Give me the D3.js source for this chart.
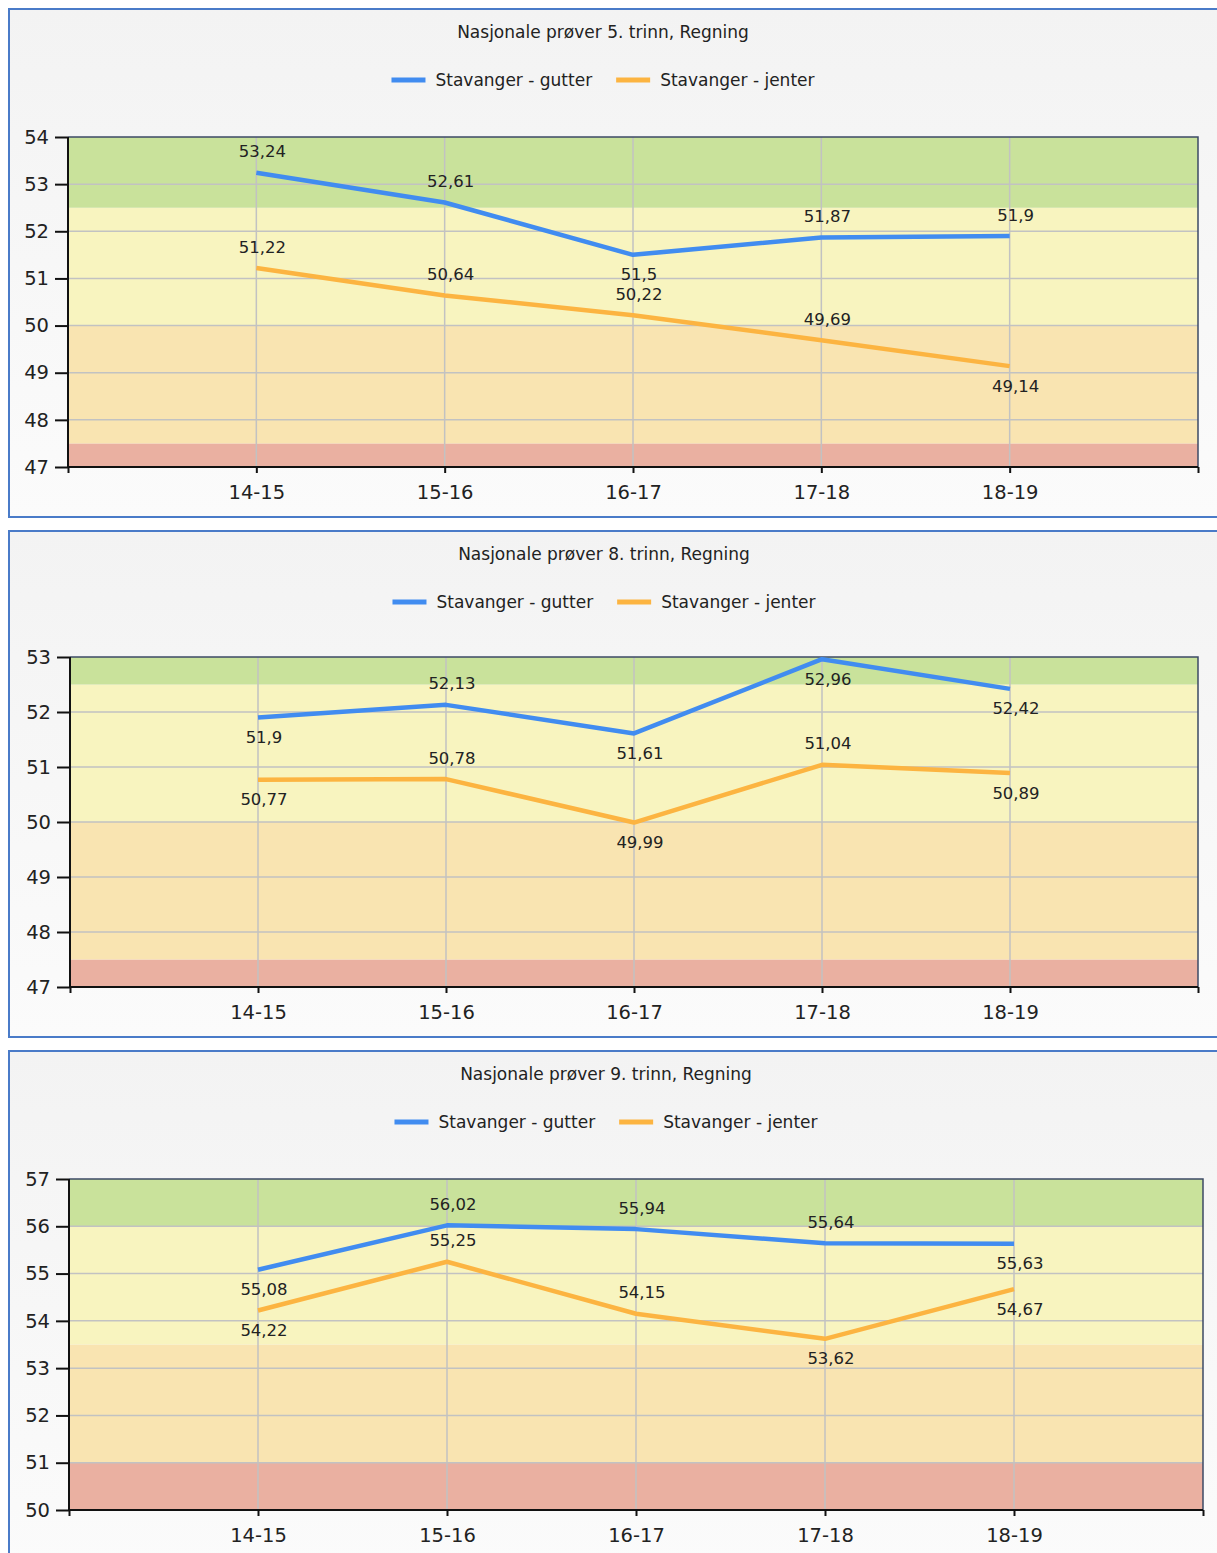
<!DOCTYPE html>
<html>
<head>
<meta charset="utf-8">
<script src="https://cdn.jsdelivr.net/npm/d3@7"></script>
<style>
  html, body { margin: 0; padding: 0; background: #ffffff; }
  svg { display: block; }
  text { font-family: "DejaVu Sans", sans-serif; fill: #222; }
</style>
</head>
<body>
<svg id="chart" width="1217" height="1553"></svg>
<script>
// ---------- DATA ----------
const categories = ["14-15", "15-16", "16-17", "17-18", "18-19"];
const seriesNames = ["Stavanger - gutter", "Stavanger - jenter"];
const titles = [
  "Nasjonale prøver 5. trinn, Regning",
  "Nasjonale prøver 8. trinn, Regning",
  "Nasjonale prøver 9. trinn, Regning"
];
const gutter5 = [53.24, 52.61, 51.5, 51.87, 51.9];
const jenter5 = [51.22, 50.64, 50.22, 49.69, 49.14];
const gutter8 = [51.9, 52.13, 51.61, 52.96, 52.42];
const jenter8 = [50.77, 50.78, 49.99, 51.04, 50.89];
const gutter9 = [55.08, 56.02, 55.94, 55.64, 55.63];
const jenter9 = [54.22, 55.25, 54.15, 53.62, 54.67];
const yDomain5 = [47, 54];
const yDomain8 = [47, 53];
const yDomain9 = [50, 57];
// band thresholds (red | orange | yellow | green)
const bands5 = [47, 47.5, 50, 52.5, 54];
const bands8 = [47, 47.5, 50, 52.5, 53];
const bands9 = [50, 51, 53.5, 56, 57];

// ---------- STYLE / LAYOUT ----------
const seriesColors = ["#418CF0", "#FCB441"];
const bandColors = ["#eab0a1", "#f9e4b1", "#f8f4bf", "#c9e29b"];
// label side: -1 above, +1 below
const labelSide = [
  [[-1, -1, 1, -1, -1], [-1, -1, -1, -1, 1]],
  [[1, -1, 1, 1, 1], [1, -1, 1, -1, 1]],
  [[1, -1, -1, -1, 1], [1, -1, -1, 1, 1]]
];
const panels = [
  { title: titles[0], series: [gutter5, jenter5], yDomain: yDomain5, bands: bands5,
    top: 8, height: 510, plotTop: 137, plotBottom: 467, left: 68, right: 1198, cx: 603, sides: labelSide[0] },
  { title: titles[1], series: [gutter8, jenter8], yDomain: yDomain8, bands: bands8,
    top: 530, height: 508, plotTop: 657, plotBottom: 987, left: 70, right: 1198, cx: 604, sides: labelSide[1] },
  { title: titles[2], series: [gutter9, jenter9], yDomain: yDomain9, bands: bands9,
    top: 1050, height: 520, plotTop: 1179, plotBottom: 1510, left: 69, right: 1203, cx: 606, sides: labelSide[2] }
];

const svg = d3.select("#chart");
const defs = svg.append("defs");
const grad = defs.append("linearGradient").attr("id", "bg").attr("x1", 0).attr("y1", 0).attr("x2", 0).attr("y2", 1);
grad.append("stop").attr("offset", "0%").attr("stop-color", "#f3f3f3");
grad.append("stop").attr("offset", "100%").attr("stop-color", "#fbfbfb");

panels.forEach((p, pi) => {
  const g = svg.append("g");
  // panel background + border
  g.append("rect")
    .attr("x", 9).attr("y", p.top + 1)
    .attr("width", 1240).attr("height", p.height - 2)
    .attr("fill", "url(#bg)")
    .attr("stroke", "#4a7bc8").attr("stroke-width", 2);

  // title
  g.append("text")
    .attr("x", p.cx).attr("y", p.top + 24)
    .attr("text-anchor", "middle").attr("dominant-baseline", "central")
    .style("font-size", "17px")
    .text(p.title);

  // legend
  const lg = g.append("g");
  let lx = 0;
  seriesNames.forEach((name, si) => {
    const item = lg.append("g").attr("transform", `translate(${lx},0)`);
    item.append("line").attr("x1", 0).attr("x2", 34).attr("y1", 0).attr("y2", 0)
      .attr("stroke", seriesColors[si]).attr("stroke-width", 5);
    const t = item.append("text").attr("x", 44).attr("y", 0)
      .attr("dominant-baseline", "central")
      .style("font-size", "17px").text(name);
    lx += 44 + t.node().getComputedTextLength() + 24;
  });
  const lw = lx - 24;
  lg.attr("transform", `translate(${p.cx - lw / 2},${p.top + 72})`);

  // scales
  const x = d3.scaleLinear().domain([0, categories.length + 1]).range([p.left, p.right]);
  const y = d3.scaleLinear().domain(p.yDomain).range([p.plotBottom, p.plotTop]);

  // bands
  for (let b = 0; b < 4; b++) {
    g.append("rect")
      .attr("x", p.left).attr("width", p.right - p.left)
      .attr("y", y(p.bands[b + 1])).attr("height", y(p.bands[b]) - y(p.bands[b + 1]))
      .attr("fill", bandColors[b]);
  }

  // gridlines
  const yTicks = d3.range(p.yDomain[0], p.yDomain[1] + 1);
  g.append("g").selectAll("line").data(yTicks.slice(1, -1)).join("line")
    .attr("x1", p.left).attr("x2", p.right)
    .attr("y1", d => y(d)).attr("y2", d => y(d))
    .attr("stroke", "#c2c2c2").attr("stroke-width", 1.5);
  g.append("g").selectAll("line").data(categories).join("line")
    .attr("x1", (d, i) => x(i + 1)).attr("x2", (d, i) => x(i + 1))
    .attr("y1", p.plotTop).attr("y2", p.plotBottom)
    .attr("stroke", "#c2c2c2").attr("stroke-width", 1.5);

  // top & right frame
  g.append("path")
    .attr("d", `M${p.left},${p.plotTop}H${p.right}V${p.plotBottom}`)
    .attr("fill", "none").attr("stroke", "#3c4a66").attr("stroke-width", 1.5);

  // axes
  const yAxis = d3.axisLeft(y).tickValues(yTicks).tickFormat(d3.format("d")).tickSize(13).tickPadding(6);
  const ya = g.append("g").attr("transform", `translate(${p.left},0)`).call(yAxis);
  const xAxis = d3.axisBottom(x).tickValues(d3.range(0, categories.length + 2))
    .tickFormat(d => (d >= 1 && d <= categories.length) ? categories[d - 1] : "")
    .tickSize(6).tickPadding(12);
  const xa = g.append("g").attr("transform", `translate(0,${p.plotBottom})`).call(xAxis);
  [ya, xa].forEach(a => {
    a.select(".domain").attr("stroke", "#111").attr("stroke-width", 2);
    a.selectAll(".tick line").attr("stroke", "#111").attr("stroke-width", 2);
    a.selectAll(".tick text").style("font-size", "19.5px").attr("fill", "#222")
      .style("font-family", '"DejaVu Sans", sans-serif');
  });
  ya.select(".domain").attr("d", `M${-0},${p.plotBottom}V${p.plotTop}`);
  xa.select(".domain").attr("d", `M${p.left},0H${p.right}`);

  // lines
  const line = d3.line().x((d, i) => x(i + 1)).y(d => y(d));
  p.series.forEach((vals, si) => {
    g.append("path").datum(vals)
      .attr("d", line)
      .attr("fill", "none")
      .attr("stroke", seriesColors[si])
      .attr("stroke-width", 4.5)
      .attr("stroke-linejoin", "round");
  });

  // labels
  const fmt = v => String(v).replace(".", ",");
  p.series.forEach((vals, si) => {
    g.append("g").selectAll("text").data(vals).join("text")
      .attr("x", (d, i) => x(i + 1) + 6)
      .attr("y", (d, i) => y(d) + (p.sides[si][i] < 0 ? -21 : 20))
      .attr("text-anchor", "middle").attr("dominant-baseline", "central")
      .style("font-size", "16.5px")
      .text(fmt);
  });
});
</script>
</body>
</html>
